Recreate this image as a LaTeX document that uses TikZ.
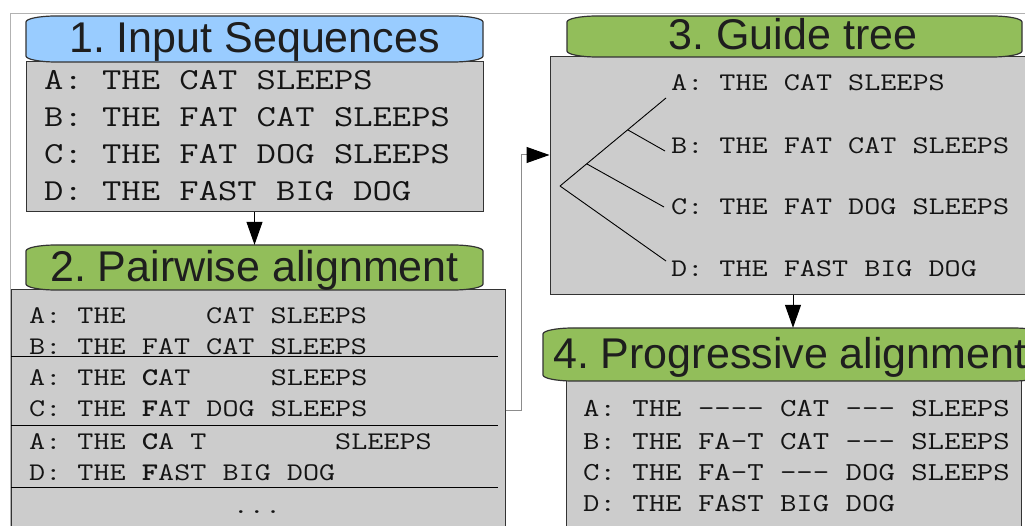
\documentclass[tikz,border=0pt]{standalone}
\usepackage{fontspec}
\usepackage{graphicx}
\usetikzlibrary{arrows.meta}
\newfontfamily\hdrfont{Liberation Sans}
\definecolor{hblue}{RGB}{153,204,255}
\definecolor{hgreen}{RGB}{146,190,90}
\definecolor{bgray}{RGB}{204,204,204}
\definecolor{htxt}{RGB}{30,30,30}
\newcommand{\mline}[1]{\scalebox{1.23}[1]{#1}}
% name, x1, ybottom, x2, ytop, fill
\newcommand{\hdrshape}[6]{%
  \path[draw=black!80,line width=1.2pt,fill=#6]
    (#2,#3+6) -- (#2,#5-6)
    arc[start angle=180,end angle=90,x radius=30pt,y radius=6pt]
    -- (#4-30,#5)
    arc[start angle=90,end angle=0,x radius=30pt,y radius=6pt]
    -- (#4,#3+6)
    arc[start angle=0,end angle=-90,x radius=30pt,y radius=6pt]
    -- (#2+30,#3)
    arc[start angle=270,end angle=180,x radius=30pt,y radius=6pt]
    -- cycle;
  \node[inner sep=0pt,minimum width={(#4-#2)*1pt},minimum height={(#5-#3)*1pt}]
    (#1) at ({(#2+#4)/2},{(#3+#5)/2}) {};%
}
\tikzset{
  body/.style={draw=black!80, line width=1pt, fill=bgray, inner sep=0pt},
  mA/.style={anchor=base west, inner sep=0pt, text=black!92,
    font=\fontsize{30.5}{36}\selectfont\ttfamily\frenchspacing},
  mB/.style={anchor=base west, inner sep=0pt, text=black!92,
    font=\fontsize{25.4}{30}\selectfont\ttfamily\frenchspacing},
  mD/.style={anchor=base west, inner sep=0pt, text=black!92,
    font=\fontsize{25.9}{30}\selectfont\ttfamily\frenchspacing},
  htext/.style={anchor=base, inner sep=0pt, text=htxt,
    font=\hdrfont\fontsize{43}{50}\selectfont\frenchspacing},
  arr/.style={draw=black, line width=1pt, -{Triangle[length=23pt,width=16pt]}},
  conn/.style={draw=black!45, line width=1pt,
    -{Triangle[length=23pt,width=16pt,color=black]}},
  sepline/.style={draw=black, line width=1pt},
  tree/.style={draw=black, line width=0.9pt},
}
\begin{document}
\begin{tikzpicture}[x=1pt,y=1pt]
\useasboundingbox (0,0) rectangle (1025,525);
\clip (0,0) rectangle (1025,525);
\fill[white] (0,0) rectangle (1025,525);
% frame
\draw[black!30, line width=1pt] (10,-5) -- (10,511) -- (1030,511);

% ---- 1. Input sequences
\node[body, minimum width=457pt, minimum height=150pt] (b1) at (254.5,388) {};
\node[mA] (b1a) at (44,435) {\mline{A: THE CAT SLEEPS}};
\node[mA] (b1b) at (44,398) {\mline{B: THE FAT CAT SLEEPS}};
\node[mA] (b1c) at (44,361) {\mline{C: THE FAT DOG SLEEPS}};
\node[mA] (b1d) at (44,324) {\mline{D: THE FAST BIG DOG}};
\hdrshape{h1}{26}{463}{483}{509}{hblue}
\node[htext] (t1) at (254.5,472) {1. Input Sequences};

% ---- 2. Pairwise alignment
\node[body, minimum width=494pt, minimum height=250pt] (b2) at (258,110) {};
\node[mB] (b2a) at (29,201.5) {\mline{A: THE~~~~~CAT SLEEPS}};
\node[mB] (b2b) at (29,170.5) {\mline{B: THE FAT CAT SLEEPS}};
\node[mB] (b2c) at (29,139.5) {\mline{A: THE \textbf{C}AT~~~~~SLEEPS}};
\node[mB] (b2d) at (29,108.5) {\mline{C: THE \textbf{F}AT DOG SLEEPS}};
\node[mB] (b2e) at (29,75.5) {\mline{A: THE \textbf{C}A T~~~~~~~~SLEEPS}};
\node[mB] (b2f) at (29,44.5) {\mline{D: THE \textbf{F}AST BIG DOG}};
\node[mB, anchor=base] (b2g) at (257,12) {\mline{...}};
\coordinate (s1l) at (11,168); \coordinate (s1r) at (498,168);
\coordinate (s2l) at (11,100); \coordinate (s2r) at (498,100);
\coordinate (s3l) at (11,38);  \coordinate (s3r) at (498,38);
\draw[sepline] (s1l) -- (s1r);
\draw[sepline] (s2l) -- (s2r);
\draw[sepline] (s3l) -- (s3r);
\hdrshape{h2}{26}{235}{483}{280}{hgreen}
\node[htext] (t2) at (254.5,243) {2. Pairwise alignment};

% ---- 3. Guide tree
\node[body, minimum width=486pt, minimum height=238pt] (b3) at (793,349) {};
\node[mB] (b3a) at (671,434) {\mline{A: THE CAT SLEEPS}};
\node[mB] (b3b) at (671,371) {\mline{B: THE FAT CAT SLEEPS}};
\node[mB] (b3c) at (671,310) {\mline{C: THE FAT DOG SLEEPS}};
\node[mB] (b3d) at (671,248) {\mline{D: THE FAST BIG DOG}};
\coordinate (r) at (560,339);
\coordinate (n1) at (587,361);
\coordinate (n2) at (628,395);
\coordinate (la) at (666,427);
\coordinate (lb) at (665,374);
\coordinate (lc) at (664,318);
\coordinate (ld) at (666,264);
\draw[tree] (r) -- (la);
\draw[tree] (n2) -- (lb);
\draw[tree] (n1) -- (lc);
\draw[tree] (r) -- (ld);
\hdrshape{h3}{567}{468}{1022}{509}{hgreen}
\node[htext] (t3) at (793,475) {3. Guide tree};

% ---- 4. Progressive alignment
\node[body, minimum width=455pt, minimum height=164pt] (b4) at (793.5,62) {};
\node[mD] (b4a) at (583,109) {\mline{A: THE -{}-{}-{}- CAT -{}-{}- SLEEPS}};
\node[mD] (b4b) at (583,76) {\mline{B: THE FA-T CAT -{}-{}- SLEEPS}};
\node[mD] (b4c) at (583,45) {\mline{C: THE FA-T -{}-{}- DOG SLEEPS}};
\node[mD] (b4d) at (583,14) {\mline{D: THE FAST BIG DOG}};
\hdrshape{h4}{543}{144}{1043}{197}{hgreen}
\node[htext, anchor=base west] (t4) at (553,156) {4. Progressive alignment};

% ---- connectors
\draw[arr] (b1.south) -- (h2.north);
\draw[conn] ([yshift=5pt]b2.east) -- ++(16,0) |- ([yshift=21pt]b3.west);
\draw[arr] (b3.south) -- (h4.north);
\end{tikzpicture}
\end{document}
